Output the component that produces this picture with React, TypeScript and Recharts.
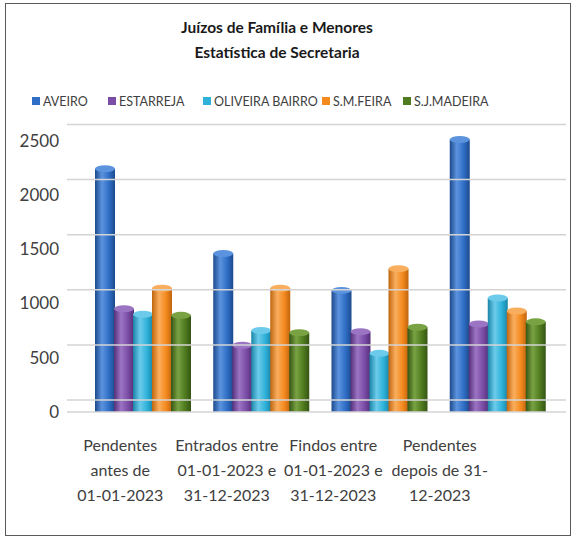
import React from 'react';
import { BarChart, Bar, XAxis, YAxis, ReferenceLine } from 'recharts';

const categories = [
  'Pendentes antes de 01-01-2023',
  'Entrados entre 01-01-2023 e 31-12-2023',
  'Findos entre 01-01-2023 e 31-12-2023',
  'Pendentes depois de 31-12-2023',
];
const categoryLines = [
  ['Pendentes', 'antes de', '01-01-2023'],
  ['Entrados entre', '01-01-2023 e', '31-12-2023'],
  ['Findos entre', '01-01-2023 e', '31-12-2023'],
  ['Pendentes', 'depois de 31-', '12-2023'],
];

const aveiro = [2240, 1460, 1120, 2510];
const estarreja = [950, 615, 740, 810];
const oliveiraBairro = [900, 750, 540, 1050];
const smFeira = [1140, 1140, 1320, 930];
const sjMadeira = [890, 730, 780, 830];

const yTicks = [0, 500, 1000, 1500, 2000, 2500];
const Y_MAX = 2643;

const series = [
  { key: 'aveiro', name: 'AVEIRO', values: aveiro, color: '#2F6EC6', dark: '#1C4A8C', light: '#5C93DE' },
  { key: 'estarreja', name: 'ESTARREJA', values: estarreja, color: '#7B4DA6', dark: '#55307A', light: '#9C74C4' },
  { key: 'oliveira', name: 'OLIVEIRA BAIRRO', values: oliveiraBairro, color: '#2FB2DA', dark: '#1A85A8', light: '#6CCBEA' },
  { key: 'feira', name: 'S.M.FEIRA', values: smFeira, color: '#F48A1E', dark: '#C0650E', light: '#F9AE5E' },
  { key: 'madeira', name: 'S.J.MADEIRA', values: sjMadeira, color: '#507C1F', dark: '#355514', light: '#79A243' },
];

const data = categories.map((name, i) => {
  const row: Record<string, any> = { name };
  series.forEach((s) => { row[s.key] = s.values[i]; });
  return row;
});

const FONT = "Lato, 'Open Sans', sans-serif";

// back wall of the 3D chart: its gridlines sit ~12-16px above the front labels
const wallOffset = (t: number) => (12 + (4 * t) / 2500) / 0.1086;

const Cylinder = (props: any) => {
  const { x, y, width, height, gradId, light } = props;
  if (!height || height <= 0) return null;
  const ry = 3.5;
  return (
    <g>
      <rect x={x} y={y} width={width} height={height} fill={`url(#${gradId})`} />
      <ellipse cx={x + width / 2} cy={y + height} rx={width / 2} ry={ry} fill={`url(#${gradId})`} />
      <ellipse cx={x + width / 2} cy={y} rx={width / 2} ry={ry} fill={light} />
    </g>
  );
};

const CategoryTick = (props: any) => {
  const { x, y, payload } = props;
  const lines = categoryLines[payload.index] || [payload.value];
  return (
    <text x={x} y={y} textAnchor="middle" fill="#404040" fontSize={16} fontFamily={FONT}>
      {lines.map((l, i) => (
        <tspan key={i} x={x} y={y + 1 + i * 25}>{l}</tspan>
      ))}
    </text>
  );
};

const legendX = [32, 108, 203, 322, 403];

export default function App() {
  return (
    <div style={{ position: 'absolute', left: 0, top: 0, width: 576, height: 541, background: '#fff' }}>
      <div
        style={{
          position: 'absolute', left: 5, top: 3, width: 566, height: 533,
          border: '1.5px solid #5a5a5a', boxSizing: 'border-box',
        }}
      />
      <BarChart
        width={576}
        height={541}
        data={data}
        margin={{ top: 125, right: 10, left: 12, bottom: 29 }}
        barGap={-1}
        barCategoryGap={12}
        style={{ position: 'absolute', left: 0, top: 0 }}
      >
        <defs>
          {series.map((s) => (
            <linearGradient key={s.key} id={`grad-${s.key}`} x1="0" y1="0" x2="1" y2="0">
              <stop offset="0%" stopColor={s.dark} />
              <stop offset="35%" stopColor={s.light} />
              <stop offset="70%" stopColor={s.color} />
              <stop offset="100%" stopColor={s.dark} />
            </linearGradient>
          ))}
        </defs>
        <YAxis
          type="number"
          domain={[0, Y_MAX]}
          ticks={yTicks}
          width={55}
          axisLine={false}
          tickLine={false}
          allowDataOverflow
          tick={{ fill: '#404040', fontSize: 17, fontFamily: FONT }}
        />
        <XAxis xAxisId="bars" dataKey="name" hide padding={{ left: 16, right: 10 }} />
        <XAxis
          xAxisId="labels"
          dataKey="name"
          axisLine={false}
          tickLine={false}
          interval={0}
          padding={{ left: 0, right: 73 }}
          tick={<CategoryTick />}
          height={100}
        />
        {yTicks.map((t) => (
          <ReferenceLine
            key={t}
            xAxisId="bars"
            y={t + wallOffset(t)}
            stroke="#d4d4d4"
            strokeWidth={1.5}
            ifOverflow="visible"
          />
        ))}
        <ReferenceLine xAxisId="bars" y={0} stroke="#d4d4d4" strokeWidth={1.5} />
        {series.map((s) => (
          <Bar
            key={s.key}
            dataKey={s.key}
            name={s.name}
            xAxisId="bars"
            fill={s.color}
            isAnimationActive={false}
            shape={(p: any) => <Cylinder {...p} gradId={`grad-${s.key}`} light={s.light} />}
          />
        ))}
      </BarChart>
      <div
        style={{
          position: 'absolute', left: 0, top: 15, width: 554, textAlign: 'center',
          fontFamily: FONT, fontWeight: 'bold', fontSize: 15.5, lineHeight: '25px', color: '#1a1a1a',
        }}
      >
        <div>Juízos de Família e Menores</div>
        <div>Estatística de Secretaria</div>
      </div>
      {series.map((s, i) => (
        <div
          key={s.key}
          style={{
            position: 'absolute', left: legendX[i], top: 92, height: 18,
            display: 'flex', alignItems: 'center', fontFamily: FONT, fontSize: 12.5, color: '#404040',
            whiteSpace: 'nowrap',
          }}
        >
          <span style={{ display: 'inline-block', width: 8, height: 8, background: s.color, marginRight: 3 }} />
          {s.name}
        </div>
      ))}
    </div>
  );
}
